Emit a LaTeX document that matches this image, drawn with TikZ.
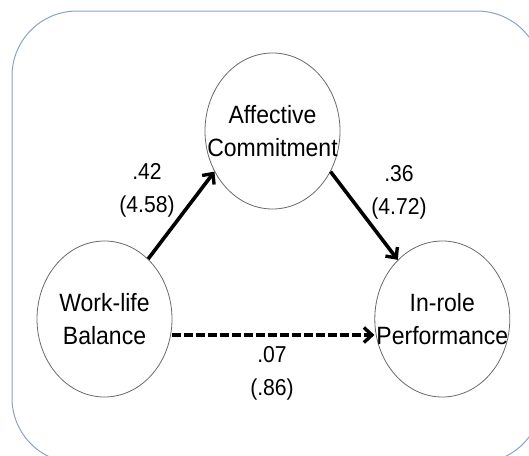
\documentclass[tikz,border=0pt]{standalone}
\usepackage{fontspec}
\setmainfont{Liberation Sans}[FakeStretch=0.92]
\usetikzlibrary{shapes.geometric, arrows.meta, positioning}
\definecolor{framecol}{RGB}{140,162,200}
\definecolor{ringcol}{RGB}{105,105,105}

\begin{document}
\begin{tikzpicture}[x=1pt, y=-1pt,
    var/.style={ellipse, draw=ringcol, line width=0.8pt, minimum width=135pt, minimum height=156pt, inner xsep=-20pt, inner ysep=0pt, align=center, font=\fontsize{25}{33}\selectfont},
    coef/.style={align=center, inner sep=0pt, font=\fontsize{23}{33}\selectfont},
    path/.style={line width=3.6pt, -{Straight Barb[length=8pt, width=15pt, line width=3.4pt]}}]
        \useasboundingbox (0,0) rectangle (529,455);
        % FRAME
        % -----------------
        \draw[framecol, line width=1pt, rounded corners=65pt] (12,11) rectangle (542,463);

        % NODES
        % -----------------
        \node[var] (wlb) at (104.5,319) {Work-life\\Balance};
        \node[var, right=202pt of wlb] (irp) {In-role\\Performance};
        \node[var] (ac) at (272.5,131) {Affective\\Commitment};

        % COEFFICIENTS
        % -----------------
        \node[coef] (c_wlb_ac) at (147,190) {.42\\(4.58)};
        \node[coef] (c_ac_irp) at (399,192) {.36\\(4.72)};
        \node[coef] (c_wlb_irp) at (272,373) {.07\\(.86)};

        % EDGES
        % -----------------
        \draw[path] (wlb.54) -- (ac.215);
        \draw[path] (ac.-35) -- (irp.127);
        \draw[path, dash pattern=on 8.5pt off 3.5pt] ([yshift=-16pt]wlb.east) -- ([yshift=-16pt]irp.west);
\end{tikzpicture}
\end{document}
